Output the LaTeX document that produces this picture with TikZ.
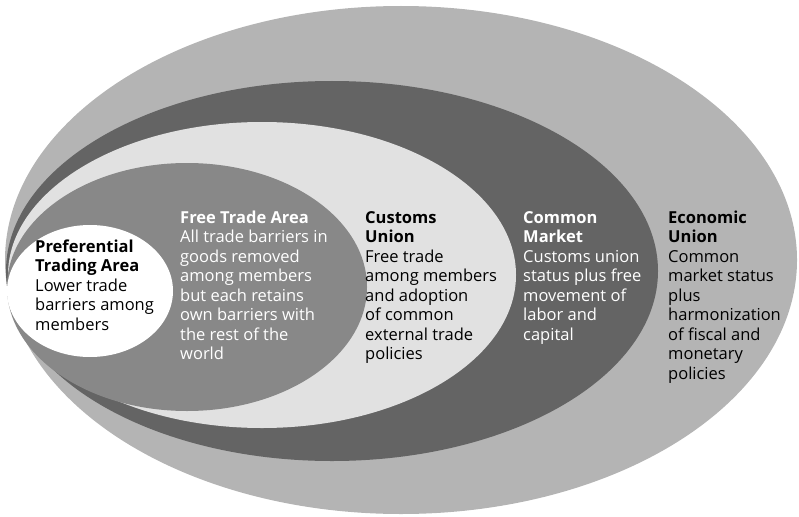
\documentclass[tikz,border=0pt]{standalone}
\usepackage{fontspec}
\setmainfont{Open Sans}
\usepackage{tikz}
\definecolor{econgray}{HTML}{B4B4B4}
\definecolor{marketgray}{HTML}{646464}
\definecolor{customsgray}{HTML}{E1E1E1}
\definecolor{freegray}{HTML}{888888}
\tikzset{stage/.style={anchor=north west, align=left, inner sep=0pt,
    font=\fontsize{16.5}{19.5}\selectfont}}

\begin{document}
\begin{tikzpicture}[x=1pt,y=-1pt]
\useasboundingbox (0,0) rectangle (799,516);

% nested stages, outermost first
\fill[econgray] (401,260) ellipse [x radius=396pt, y radius=254pt];
\fill[marketgray] (332,271) ellipse [x radius=326pt, y radius=190pt];
\fill[customsgray] (262,275) ellipse [x radius=254pt, y radius=153pt];
\fill[freegray] (187,287) ellipse [x radius=180pt, y radius=124pt];
\fill[white] (90,291) ellipse [x radius=83pt, y radius=66pt];

\begin{scope}[every node/.style={stage}]
\node (PTA) at (35,238.3) {\strut\textbf{Preferential}\\\textbf{Trading Area}\\Lower trade\\barriers among\\members};
\node[text=white] (FTA) at (180,209.3) {\strut\textbf{Free Trade Area}\\All trade barriers in\\goods removed\\among members\\but each retains\\own barriers with\\the rest of the\\world};
\node (CU) at (365,209.3) {\strut\textbf{Customs}\\\textbf{Union}\\Free trade\\among members\\and adoption\\of common\\external trade\\policies};
\node[text=white] (CM) at (523,209.3) {\strut\textbf{Common}\\\textbf{Market}\\Customs union\\status plus free\\movement of\\labor and\\capital};
\node (EU) at (668,209.3) {\strut\textbf{Economic}\\\textbf{Union}\\Common\\market status\\plus\\harmonization\\of fiscal and\\monetary\\policies};
\end{scope}
\end{tikzpicture}
\end{document}
